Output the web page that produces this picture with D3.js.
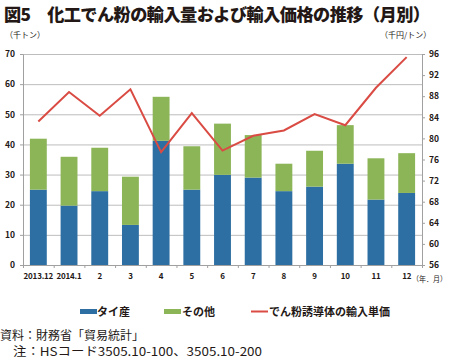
<!DOCTYPE html>
<html><head><meta charset="utf-8">
<script src="https://cdn.jsdelivr.net/npm/d3@7"></script>
<style>body{margin:0;background:#fff}svg{display:block}text{font-family:"Noto Sans CJK JP","Noto Sans",sans-serif}</style>
</head><body><svg id="c" width="450" height="358"></svg>
<script>
const categories = ["2013.12","2014.1","2","3","4","5","6","7","8","9","10","11","12"];
const thai = [25.0,19.7,24.5,13.3,41.2,25.0,29.9,29.0,24.5,26.0,33.6,21.7,23.9];
const other = [16.9,16.2,14.4,16.0,14.6,14.4,17.0,14.1,9.1,11.9,12.8,13.7,13.2];
const price = [83.2,88.8,84.3,89.3,77.4,84.8,77.7,80.5,81.5,84.6,82.5,89.6,95.4];
const leftTicks = [0,10,20,30,40,50,60,70];
const rightTicks = [56,60,64,68,72,76,80,84,88,92,96];

const svg = d3.select("#c");
const L=23,R=422,T=54,B=265;
const x = d3.scaleBand().domain(categories).range([L,R]).paddingInner(0.45).paddingOuter(0.225);
const y = d3.scaleLinear().domain([0,70]).range([B,T]);
const y2 = d3.scaleLinear().domain([56,96]).range([B,T]);

svg.append("text").attr("x",4).attr("y",21).attr("font-size",17.2).attr("font-weight","900").attr("fill","#231815")
  .attr("textLength",426).text("図5　化工でん粉の輸入量および輸入価格の推移（月別）");

// gridlines
svg.append("g").selectAll("line").data(leftTicks.slice(1)).join("line")
  .attr("x1",L).attr("x2",R).attr("y1",d=>y(d)+0.5).attr("y2",d=>y(d)+0.5)
  .attr("stroke","#bdbdbd").attr("stroke-width",1);

const stacked = categories.map((c,i)=>({c, thai:thai[i], other:other[i]}));
const series = d3.stack().keys(["thai","other"])(stacked);
const colors = {thai:"#2d6fa3", other:"#8cb558"};
svg.append("g").selectAll("g").data(series).join("g").attr("fill",d=>colors[d.key])
  .selectAll("rect").data(d=>d).join("rect")
  .attr("x",d=>x(d.data.c)).attr("width",x.bandwidth())
  .attr("y",d=>y(d[1])).attr("height",d=>y(d[0])-y(d[1]));

// axes
const fs = 8.5;
const ax = svg.append("g").attr("transform",`translate(${L},0)`)
  .call(d3.axisLeft(y).tickValues(leftTicks).tickSize(3).tickSizeOuter(0));
const ax2 = svg.append("g").attr("transform",`translate(${R},0)`)
  .call(d3.axisRight(y2).tickValues(rightTicks).tickSize(3).tickSizeOuter(0));
[ax,ax2].forEach(a=>{a.select(".domain").attr("stroke","#a0a0a0");a.selectAll(".tick line").attr("stroke","#a0a0a0");
  a.selectAll("text").attr("font-size",fs).attr("font-weight","bold").attr("fill","#231815").attr("font-family","Liberation Sans, Arial, sans-serif");});
ax.selectAll("text").attr("x",-8);
ax2.selectAll("text").attr("x",7);

const xb = svg.append("g").attr("transform",`translate(0,${B})`)
  .call(d3.axisBottom(x).tickSize(0).tickSizeOuter(0));
xb.select(".domain").attr("stroke","#a0a0a0");
xb.selectAll("text").attr("font-size",8).attr("font-weight","bold").attr("fill","#231815").attr("dy","1.4em")
  .attr("letter-spacing",-0.2).attr("font-family","Liberation Sans, Arial, sans-serif");
// ticks between categories
const step = x.step();
svg.append("g").selectAll("line").data(d3.range(categories.length+1)).join("line")
  .attr("x1",i=>L+i*step+0.5).attr("x2",i=>L+i*step+0.5).attr("y1",B).attr("y2",B+3).attr("stroke","#a0a0a0");

// line
svg.append("path").datum(price).attr("fill","none").attr("stroke","#d94b43").attr("stroke-width",2)
  .attr("d",d3.line().x((d,i)=>x(categories[i])+x.bandwidth()/2).y(d=>y2(d)));

svg.append("text").attr("x",5).attr("y",38).attr("font-size",8).attr("fill","#231815").text("（千トン）");
svg.append("text").attr("x",380).attr("y",38).attr("font-size",8).attr("fill","#231815").text("（千円/トン）");
svg.append("text").attr("x",412).attr("y",282).attr("font-size",7.5).attr("fill","#231815")
  .attr("textLength",35).attr("lengthAdjust","spacingAndGlyphs").text("（年．月）");

// legend
const lg = svg.append("g").attr("font-size",11).attr("font-weight","bold").attr("fill","#231815");
lg.append("rect").attr("x",80).attr("y",309).attr("width",17).attr("height",5).attr("fill",colors.thai);
lg.append("text").attr("x",97).attr("y",316).text("タイ産");
lg.append("rect").attr("x",164).attr("y",309).attr("width",17).attr("height",5).attr("fill",colors.other);
lg.append("text").attr("x",182).attr("y",316).text("その他");
lg.append("line").attr("x1",251).attr("x2",268).attr("y1",311.5).attr("y2",311.5).attr("stroke","#d94b43").attr("stroke-width",2);
lg.append("text").attr("x",269).attr("y",316).text("でん粉誘導体の輸入単価");

svg.append("text").attr("x",0).attr("y",340).attr("font-size",12).attr("fill","#231815").text("資料：財務省「貿易統計」");
svg.append("text").attr("x",13).attr("y",356).attr("font-size",12).attr("fill","#231815")
  .attr("textLength",249).attr("lengthAdjust","spacingAndGlyphs").text("注：HSコード3505.10-100、3505.10-200");
</script></body></html>
